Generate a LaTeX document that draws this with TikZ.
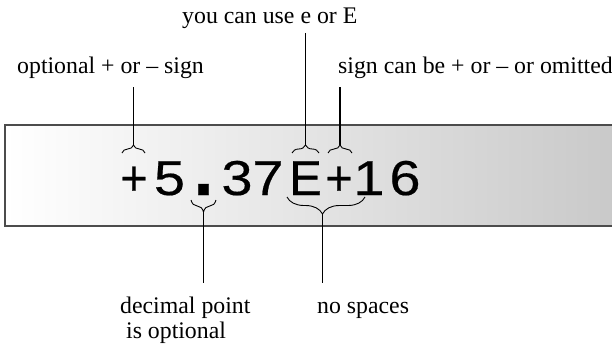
\documentclass[tikz,border=0pt]{standalone}
\usepackage{graphicx}
\usepackage{fontspec}
\setmainfont{Liberation Serif}
\newfontfamily\numfont[FakeBold=0.4]{Liberation Sans}
\usetikzlibrary{decorations.pathreplacing}

\begin{document}
\begin{tikzpicture}[x=1pt, y=-1pt,
		lbl/.style={font=\fontsize{23.8}{25}\selectfont, inner sep=0pt, anchor=base west},
		digit/.style={font=\numfont\fontsize{49}{49}\selectfont, inner sep=0pt, anchor=base},
		upbrace/.style={decorate, decoration={brace, amplitude=#1}, line width=0.9pt},
		downbrace/.style={decorate, decoration={brace, amplitude=#1, mirror}, line width=0.9pt},
		lead/.style={line width=1.1pt}]
	\useasboundingbox (0,0) rectangle (612,345);
	\draw[line width=2.4pt, draw=black!70, left color=white, right color=black!22] (5,125) rectangle (640,226);
	
	\foreach \x/\c/\s/\n in {
		134/+/0.95/1,
		169.5/5/1.14/2,
		203.5/{\scalebox{1.5}{\bfseries .}}/1/3,
		237/3/1.14/4,
		268/7/1.14/5,
		305.5/E/1/6,
		339/+/0.95/7,
		369/1/1.14/8,
		405/6/1.14/9
	}{
		\node[digit] (c\n) at (\x,195) {\scalebox{\s}[1]{\c}};
	}
	
	\node[lbl] (lE) at (182,24) {you can use e or E};
	\node[lbl] (lsign) at (17,74) {optional + or – sign};
	\node[lbl] (lomit) at (338,73) {sign can be + or – or omitted};
	\node[lbl, align=left, anchor=north west] (ldec) at (120,297) {decimal point\\\ is optional};
	\node[lbl] (lspace) at (317,313) {no spaces};
	
	\draw[upbrace=8pt] (122,153) -- (145,153) coordinate[midway, yshift=8pt] (t1);
	\draw[upbrace=8pt] (292,153) -- (319,153) coordinate[midway, yshift=8pt] (t6);
	\draw[upbrace=8pt] (328,153) -- (352,153) coordinate[midway, yshift=8pt] (t7);
	\draw[downbrace=12pt] (191,200) -- (216,200) coordinate[midway, yshift=-12pt] (t3);
	\draw[downbrace=17pt, decoration={aspect=0.455}] (287,197) -- (365,197) coordinate[pos=0.455, yshift=-17pt] (t67);
	
	\draw[lead] ([yshift=-13pt]lsign.base -| t1) -- (t1);
	\draw[lead] ([yshift=-9pt]lE.base -| t6) -- (t6);
	\draw[lead] ([yshift=-14pt]lomit.base -| t7) -- (t7);
	\draw[lead] (t3) -- ([yshift=14pt]ldec.north -| t3);
	\draw[lead] (t67) -- ([yshift=30pt]lspace.base -| t67);
\end{tikzpicture}
\end{document}
